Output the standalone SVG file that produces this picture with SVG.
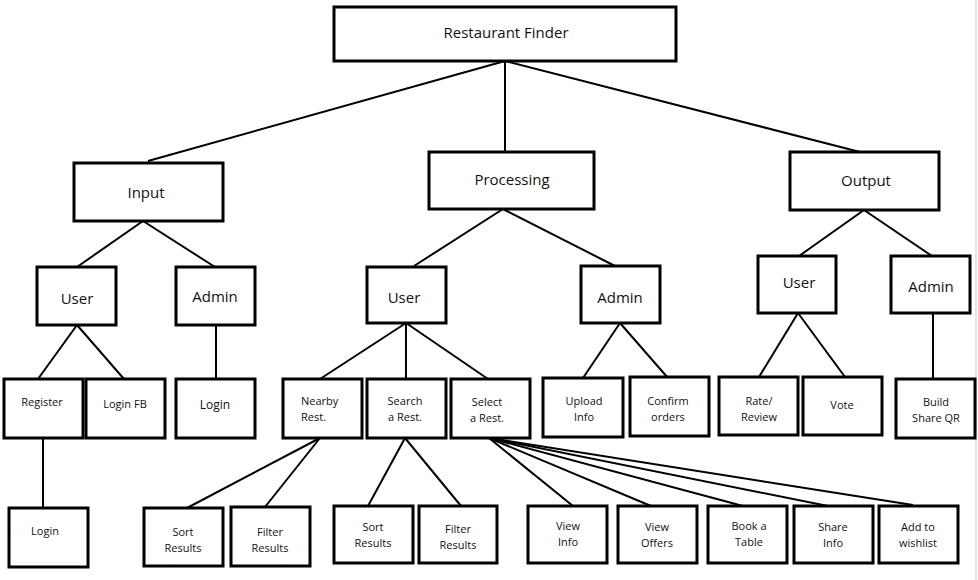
<svg xmlns="http://www.w3.org/2000/svg" width="978" height="580" viewBox="0 0 978 580">
<style>
rect.b{fill:#fff;stroke:#000;stroke-width:3}
#edges line{stroke:#000;stroke-width:2}
text{font-family:"Open Sans","Noto Sans","Liberation Sans",sans-serif;fill:#111;text-anchor:middle}
.l{font-size:15px}
.m{font-size:15px}
.s{font-size:11px}
.t{font-size:12px}
</style>
<rect width="978" height="580" fill="#fff"/>
<line x1="976" y1="0" x2="976" y2="580" stroke="#c8c8c8" stroke-width="1"/>
<g id="edges">
<line x1="505" y1="61" x2="148" y2="161"/>
<line x1="505" y1="61" x2="505" y2="151"/>
<line x1="505" y1="61" x2="860" y2="152"/>
<line x1="143" y1="221" x2="77" y2="267"/>
<line x1="143" y1="221" x2="215" y2="267"/>
<line x1="503" y1="209" x2="414" y2="266"/>
<line x1="503" y1="209" x2="615" y2="266"/>
<line x1="864" y1="210" x2="799" y2="256"/>
<line x1="864" y1="210" x2="932" y2="256"/>
<line x1="77" y1="325" x2="38" y2="379"/>
<line x1="77" y1="325" x2="124" y2="379"/>
<line x1="216" y1="325" x2="216" y2="379"/>
<line x1="43" y1="438" x2="43" y2="508"/>
<line x1="406" y1="323" x2="320" y2="379"/>
<line x1="406" y1="323" x2="406" y2="379"/>
<line x1="406" y1="323" x2="488" y2="379"/>
<line x1="620" y1="323" x2="583" y2="378"/>
<line x1="620" y1="323" x2="668" y2="378"/>
<line x1="798" y1="313" x2="759" y2="377"/>
<line x1="798" y1="313" x2="845" y2="377"/>
<line x1="933" y1="313" x2="933" y2="379"/>
<line x1="320" y1="438" x2="187" y2="508"/>
<line x1="320" y1="438" x2="265" y2="507"/>
<line x1="405" y1="438" x2="368" y2="506"/>
<line x1="405" y1="438" x2="461" y2="506"/>
<line x1="489" y1="438" x2="573" y2="506"/>
<line x1="489" y1="438" x2="651" y2="506"/>
<line x1="489" y1="438" x2="743" y2="506"/>
<line x1="489" y1="438" x2="828" y2="506"/>
<line x1="489" y1="438" x2="913" y2="505"/>
</g>
<g id="root"><rect class="b" x="334" y="7" width="342" height="54"/><text class="l" x="506" y="38">Restaurant Finder</text></g>
<g id="input"><rect class="b" x="74" y="163" width="149" height="58"/><text class="l" x="146" y="198">Input</text></g>
<g id="processing"><rect class="b" x="429" y="152" width="165" height="57"/><text class="l" x="512" y="185">Processing</text></g>
<g id="output"><rect class="b" x="790" y="152" width="149" height="58"/><text class="l" x="866" y="186">Output</text></g>
<g id="in-user"><rect class="b" x="37" y="267" width="79" height="58"/><text class="m" x="77" y="304">User</text></g>
<g id="in-admin"><rect class="b" x="176" y="267" width="79" height="58"/><text class="m" x="215" y="302">Admin</text></g>
<g id="pr-user"><rect class="b" x="367" y="267" width="79" height="56"/><text class="m" x="404" y="303">User</text></g>
<g id="pr-admin"><rect class="b" x="581" y="266" width="79" height="57"/><text class="m" x="620" y="303">Admin</text></g>
<g id="out-user"><rect class="b" x="758" y="256" width="78" height="57"/><text class="m" x="799" y="288">User</text></g>
<g id="out-admin"><rect class="b" x="891" y="256" width="79" height="57"/><text class="m" x="931" y="292">Admin</text></g>
<g id="register"><rect class="b" x="4" y="379" width="79" height="59"/><text class="s" x="42" y="406">Register</text></g>
<g id="login-fb"><rect class="b" x="86" y="379" width="79" height="59"/><text class="s" x="125" y="408">Login FB</text></g>
<g id="admin-login"><rect class="b" x="176" y="379" width="79" height="59"/><text class="t" x="215" y="409">Login</text></g>
<g id="login"><rect class="b" x="9" y="508" width="79" height="59"/><text class="s" x="45" y="535">Login</text></g>
<g id="nearby"><rect class="b" x="283" y="379" width="79" height="59"/><text class="s" x="301" y="405" style="text-anchor:start">Nearby</text><text class="s" x="301" y="421" style="text-anchor:start">Rest.</text></g>
<g id="search"><rect class="b" x="367" y="379" width="79" height="59"/><text class="s" x="405" y="405">Search</text><text class="s" x="405" y="421">a Rest.</text></g>
<g id="select"><rect class="b" x="451" y="379" width="79" height="59"/><text class="s" x="487" y="406">Select</text><text class="s" x="487" y="422">a  Rest.</text></g>
<g id="upload"><rect class="b" x="543" y="378" width="80" height="59"/><text class="s" x="584" y="405">Upload</text><text class="s" x="584" y="421">Info</text></g>
<g id="confirm"><rect class="b" x="630" y="377" width="79" height="59"/><text class="s" x="668" y="405">Confirm</text><text class="s" x="668" y="421">orders</text></g>
<g id="rate"><rect class="b" x="719" y="377" width="79" height="58"/><text class="s" x="759" y="405">Rate/</text><text class="s" x="759" y="421">Review</text></g>
<g id="vote"><rect class="b" x="803" y="377" width="79" height="58"/><text class="s" x="842" y="409">Vote</text></g>
<g id="build"><rect class="b" x="896" y="379" width="79" height="59"/><text class="s" x="936" y="406">Build</text><text class="s" x="936" y="422">Share QR</text></g>
<g id="sort1"><rect class="b" x="144" y="508" width="79" height="58"/><text class="s" x="183" y="536">Sort</text><text class="s" x="183" y="552">Results</text></g>
<g id="filter1"><rect class="b" x="231" y="507" width="79" height="59"/><text class="s" x="270" y="536">Filter</text><text class="s" x="270" y="552">Results</text></g>
<g id="sort2"><rect class="b" x="334" y="506" width="79" height="57"/><text class="s" x="373" y="531">Sort</text><text class="s" x="373" y="547">Results</text></g>
<g id="filter2"><rect class="b" x="419" y="506" width="78" height="57"/><text class="s" x="458" y="533">Filter</text><text class="s" x="458" y="549">Results</text></g>
<g id="view-info"><rect class="b" x="528" y="506" width="79" height="57"/><text class="s" x="568" y="530">View</text><text class="s" x="568" y="546">Info</text></g>
<g id="view-offers"><rect class="b" x="618" y="506" width="79" height="57"/><text class="s" x="657" y="531">View</text><text class="s" x="657" y="547">Offers</text></g>
<g id="book"><rect class="b" x="708" y="506" width="79" height="57"/><text class="s" x="749" y="530">Book a</text><text class="s" x="749" y="546">Table</text></g>
<g id="share"><rect class="b" x="794" y="506" width="79" height="57"/><text class="s" x="833" y="531">Share</text><text class="s" x="833" y="547">Info</text></g>
<g id="wishlist"><rect class="b" x="879" y="506" width="79" height="57"/><text class="s" x="918" y="531">Add to</text><text class="s" x="918" y="547">wishlist</text></g>
</svg>
